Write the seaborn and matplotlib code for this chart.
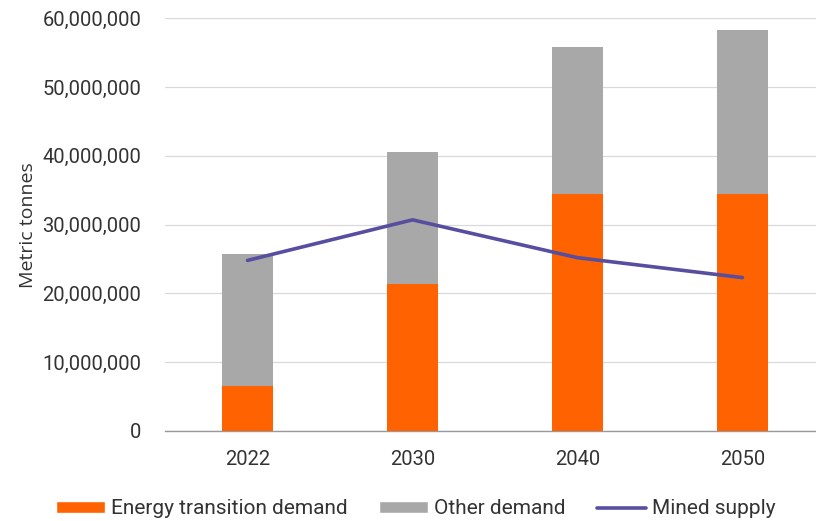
import matplotlib
matplotlib.use("Agg")
import matplotlib.pyplot as plt
from matplotlib.ticker import FuncFormatter
from matplotlib.patches import Patch
from matplotlib.lines import Line2D
import seaborn as sns
import pandas as pd
import numpy as np

years = ["2022", "2030", "2040", "2050"]
energy_transition = [6.6e6, 21.4e6, 34.4e6, 34.4e6]
other_demand = [19.1e6, 19.1e6, 21.5e6, 23.9e6]
mined_supply = [24.8e6, 30.7e6, 25.2e6, 22.3e6]

orange = "#FF6200"
grey = "#A8A8A8"
purple = "#574EA0"
text_col = "#333333"

df = pd.DataFrame({
    "year": years,
    "energy": energy_transition,
    "other": other_demand,
    "supply": mined_supply,
})
df["total"] = df["energy"] + df["other"]
df["pos"] = np.arange(len(years))

sns.set_style("white")
plt.rcParams["font.family"] = ["Roboto", "DejaVu Sans"]
fs = 14.5

fig = plt.figure(figsize=(8.16, 5.21), dpi=100)
# axes run a little past the right edge, as in the cropped original
ax = fig.add_axes([165 / 816, 90 / 521, 660 / 816, (431 - 18.3) / 521])

sns.barplot(data=df, x="year", y="total", color=grey, width=0.315,
            saturation=1, linewidth=0, ax=ax, zorder=2)
sns.barplot(data=df, x="year", y="energy", color=orange, width=0.315,
            saturation=1, linewidth=0, ax=ax, zorder=3)
sns.lineplot(data=df, x="pos", y="supply", color=purple, linewidth=2.6,
             ax=ax, zorder=4)

ax.set_xlim(-0.5, 3.5)
ax.set_ylim(0, 60e6)
ax.set_yticks(np.arange(0, 60e6 + 1, 10e6))
ax.yaxis.set_major_formatter(FuncFormatter(lambda v, p: f"{int(v):,}"))
ax.grid(axis="y", color="#D9D9D9", linewidth=0.9, zorder=0)
ax.set_axisbelow(True)

ax.set_xticks(df["pos"])
ax.set_xticklabels(years)
ax.set_xticks(np.arange(-0.5, 4, 1), minor=True)
ax.tick_params(axis="x", which="major", length=0, pad=14,
               labelsize=fs, labelcolor=text_col)
ax.tick_params(axis="x", which="minor", length=7, width=1, color="#999999",
               direction="out")
ax.tick_params(axis="y", length=0, pad=17, labelsize=fs, labelcolor=text_col)

for s in ["top", "right", "left"]:
    ax.spines[s].set_visible(False)
ax.spines["bottom"].set_color("#999999")
ax.spines["bottom"].set_linewidth(1)

ax.set_xlabel("")
ax.set_ylabel("Metric tonnes", fontsize=14, color=text_col, labelpad=4,
              family=["Open Sans", "DejaVu Sans"])

handles = [
    Patch(facecolor=orange, label="Energy transition demand"),
    Patch(facecolor=grey, label="Other demand"),
    Line2D([0], [0], color=purple, linewidth=2.6, label="Mined supply"),
]
fig.legend(handles=handles, loc="center", bbox_to_anchor=(416 / 816, 12 / 521),
           ncol=3, frameon=False, fontsize=15, handlelength=2.35,
           handleheight=0.5, handletextpad=0.3, columnspacing=1.5,
           labelcolor=text_col)

fig.savefig("out.png", dpi=100)
